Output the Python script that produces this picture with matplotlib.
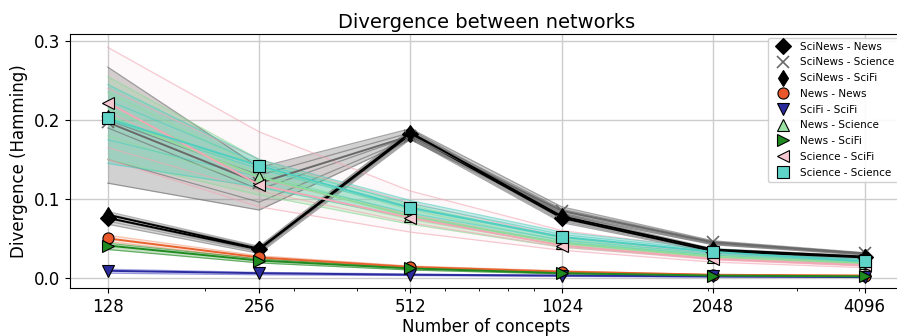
import numpy as np
import matplotlib
matplotlib.use("Agg")
import matplotlib.pyplot as plt
from matplotlib.lines import Line2D
from matplotlib.ticker import NullFormatter, LogLocator

# Число концептов (ось X)
concepts = [128, 256, 512, 1024, 2048, 4096]

# Средние значения по парам сетей
scinews_news = [0.076, 0.036, 0.182, 0.076, 0.034, 0.026]
scinews_science = [0.197, 0.120, 0.180, 0.085, 0.045, 0.031]
scinews_scifi = [0.080, 0.037, 0.184, 0.078, 0.036, 0.027]
news_news = [0.050, 0.026, 0.014, 0.008, 0.004, 0.003]
scifi_scifi = [0.009, 0.006, 0.004, 0.003, 0.002, 0.001]
news_science = [0.205, 0.128, 0.078, 0.044, 0.027, 0.019]
news_scifi = [0.041, 0.022, 0.012, 0.006, 0.003, 0.002]
science_scifi = [0.222, 0.118, 0.076, 0.041, 0.024, 0.016]
science_science = [0.202, 0.142, 0.089, 0.052, 0.033, 0.021]

# Отдельные прогоны (тонкие линии)
runs_scinews_news = [
    [0.081, 0.039, 0.187, 0.081, 0.036, 0.027],
    [0.072, 0.033, 0.178, 0.072, 0.033, 0.025],
    [0.068, 0.031, 0.176, 0.070, 0.032, 0.024],
]
runs_scinews_science = [
    [0.267, 0.140, 0.189, 0.090, 0.047, 0.032],
    [0.200, 0.130, 0.184, 0.087, 0.046, 0.031],
    [0.190, 0.112, 0.179, 0.084, 0.044, 0.030],
    [0.150, 0.096, 0.177, 0.082, 0.043, 0.030],
    [0.120, 0.086, 0.175, 0.080, 0.042, 0.029],
]
runs_scinews_scifi = [
    [0.084, 0.040, 0.188, 0.082, 0.037, 0.028],
    [0.075, 0.034, 0.180, 0.074, 0.034, 0.026],
]
runs_news_news = [
    [0.054, 0.028, 0.015, 0.009, 0.004, 0.003],
    [0.046, 0.024, 0.013, 0.007, 0.004, 0.003],
]
runs_scifi_scifi = [
    [0.011, 0.007, 0.005, 0.003, 0.002, 0.001],
    [0.006, 0.004, 0.003, 0.002, 0.001, 0.001],
]
runs_news_science = [
    [0.255, 0.150, 0.092, 0.050, 0.030, 0.021],
    [0.235, 0.140, 0.086, 0.047, 0.029, 0.020],
    [0.215, 0.132, 0.080, 0.045, 0.028, 0.019],
    [0.180, 0.118, 0.074, 0.042, 0.026, 0.018],
    [0.150, 0.105, 0.068, 0.039, 0.024, 0.017],
]
runs_news_scifi = [
    [0.044, 0.024, 0.013, 0.007, 0.004, 0.002],
    [0.036, 0.019, 0.010, 0.005, 0.003, 0.002],
]
runs_science_scifi = [
    [0.292, 0.185, 0.110, 0.060, 0.036, 0.024],
    [0.240, 0.150, 0.095, 0.052, 0.031, 0.021],
    [0.210, 0.125, 0.080, 0.044, 0.026, 0.018],
    [0.165, 0.110, 0.070, 0.039, 0.023, 0.015],
    [0.150, 0.090, 0.058, 0.035, 0.020, 0.013],
]
runs_science_science = [
    [0.245, 0.150, 0.098, 0.058, 0.037, 0.024],
    [0.225, 0.145, 0.094, 0.055, 0.035, 0.023],
    [0.200, 0.138, 0.088, 0.051, 0.033, 0.022],
    [0.175, 0.128, 0.082, 0.048, 0.031, 0.020],
    [0.145, 0.115, 0.076, 0.045, 0.029, 0.019],
]

# Настройки серий: (подпись, среднее, прогоны, цвет линии, цвет прогонов, маркер, цвет маркера, прозрачность полосы)
series = [
    ("SciNews - News", scinews_news, runs_scinews_news, "black", "gray", "D", "black", 0.3),
    ("SciNews - Science", scinews_science, runs_scinews_science, "dimgray", "dimgray", "x", "dimgray", 0.3),
    ("SciNews - SciFi", scinews_scifi, runs_scinews_scifi, "black", "gray", "d", "black", 0.3),
    ("News - News", news_news, runs_news_news, "#e8622e", "#f0a080", "o", "#e8582a", 0.25),
    ("SciFi - SciFi", scifi_scifi, runs_scifi_scifi, "#2b2b9e", "#6b6bd0", "v", "#2b2b9e", 0.25),
    ("News - Science", news_science, runs_news_science, "#8fdc9a", "#8fdc9a", "^", "#9be3a3", 0.3),
    ("News - SciFi", news_scifi, runs_news_scifi, "#1f8a1f", "#1f8a1f", ">", "#1f8a1f", 0.25),
    ("Science - SciFi", science_scifi, runs_science_scifi, "#f2a7b5", "#f2a7b5", "<", "#f6c9d2", 0.08),
    ("Science - Science", science_science, runs_science_science, "#4fcfc0", "#4fcfc0", "s", "#5fd3c8", 0.3),
]

fig = plt.figure(figsize=(8.97, 3.36), dpi=100)
ax = fig.add_axes([0.078, 0.143, 0.928, 0.756])

# Полосы разброса и тонкие линии прогонов
for label, mean, runs, color, rcolor, marker, mcolor, band_alpha in series:
    r = np.array(runs)
    ax.fill_between(concepts, r.min(axis=0), r.max(axis=0), color=rcolor,
                    alpha=band_alpha, lw=0, zorder=1)
    for run in runs:
        ax.plot(concepts, run, color=rcolor, lw=0.9, alpha=0.6, zorder=2)

# Основные линии с маркерами
handles = []
for label, mean, runs, color, rcolor, marker, mcolor, band_alpha in series:
    if marker == "x":
        ax.plot(concepts, mean, color=color, lw=1.4, marker=marker, ms=8,
                mew=1.2, zorder=4)
        h = Line2D([], [], ls="none", marker=marker, color=color, ms=8, mew=1.2)
    else:
        ax.plot(concepts, mean, color=color, lw=1.4, marker=marker, ms=8,
                mfc=mcolor, mec="black", mew=0.8, zorder=4)
        h = Line2D([], [], ls="none", marker=marker, mfc=mcolor, mec="black",
                   mew=0.8, ms=8)
    handles.append((h, label))

ax.set_xscale("log")
ax.set_xlim(128 / 2 ** 0.25, 4096 * 2 ** 0.25)
ax.set_ylim(-0.0127, 0.309)
ax.set_xticks(concepts)
ax.set_xticklabels([str(c) for c in concepts])
ax.xaxis.set_minor_locator(LogLocator(base=10, subs=np.arange(2, 10)))
ax.xaxis.set_minor_formatter(NullFormatter())
ax.set_yticks([0.0, 0.1, 0.2, 0.3])
ax.set_yticklabels(["0.0", "0.1", "0.2", "0.3"])
ax.tick_params(axis="both", which="major", labelsize=12)
ax.tick_params(axis="x", which="minor", length=2.5)
ax.grid(True, which="major", color="#cccccc", lw=1.0)
ax.set_axisbelow(True)

ax.set_title("Divergence between networks", fontsize=14, pad=4)
ax.set_xlabel("Number of concepts", fontsize=12, labelpad=2)
ax.set_ylabel("Divergence (Hamming)", fontsize=12)

ax.legend([h for h, l in handles], [l for h, l in handles], loc="upper right",
          fontsize=7.5, framealpha=0.9, borderaxespad=0.35, handletextpad=0.7,
          labelspacing=0.55)

fig.savefig("out.png", dpi=100)
